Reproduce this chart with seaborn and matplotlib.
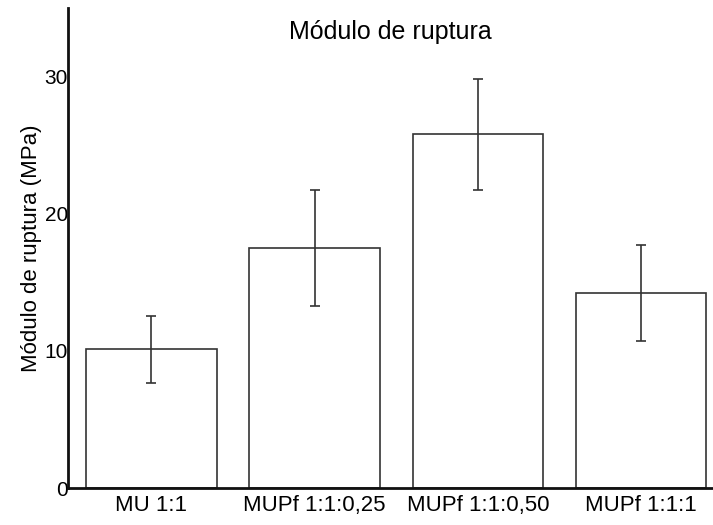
import matplotlib
matplotlib.use("Agg")
import matplotlib.pyplot as plt
import seaborn as sns
import pandas as pd
import numpy as np

categories = ["MU 1:1", "MUPf 1:1:0,25", "MUPf 1:1:0,50", "MUPf 1:1:1"]
values = [10.1, 17.5, 25.8, 14.2]
errors = [2.45, 4.2, 4.05, 3.5]
title = "Módulo de ruptura"
ylabel = "Módulo de ruptura (MPa)"
yticks = [0, 10, 20, 30]

sns.set_theme(style="white")
plt.rcParams['font.family'] = ['Liberation Sans', 'DejaVu Sans']

df = pd.DataFrame({"cat": categories, "val": values, "err": errors})

fig = plt.figure(figsize=(7.13, 5.25), dpi=100)
ax = fig.add_axes([68/713, 37/525, 1 - 68/713, (488-8)/525])

sns.barplot(data=df, x="cat", y="val", ax=ax, color="white", edgecolor="#333333",
            linewidth=1.2, width=0.8, errorbar=None, saturation=1)
ax.errorbar(x=np.arange(len(categories)), y=df["val"], yerr=df["err"], fmt="none",
            ecolor="#333333", elinewidth=1.2, capsize=3.3, capthick=1.2)

ax.set_ylim(0, 35)
ax.set_xlim(-0.51, 3.44)
ax.set_yticks(yticks)
ax.set_yticklabels([str(t) for t in yticks])
ax.set_xlabel("")
ax.set_ylabel(ylabel, fontsize=16, color="black", labelpad=2)
ax.tick_params(axis="both", length=0, colors="black")
ax.tick_params(axis="y", pad=0, labelsize=15)
ax.tick_params(axis="x", pad=5, labelsize=16)

for s in ["top", "right"]:
    ax.spines[s].set_visible(False)
for s in ["left", "bottom"]:
    ax.spines[s].set_color("#111111")
    ax.spines[s].set_linewidth(2)

ax.text(0.5, 0.935, title, transform=ax.transAxes, ha="center", va="baseline",
        fontsize=18, color="black")

fig.savefig("out.png", dpi=100)
